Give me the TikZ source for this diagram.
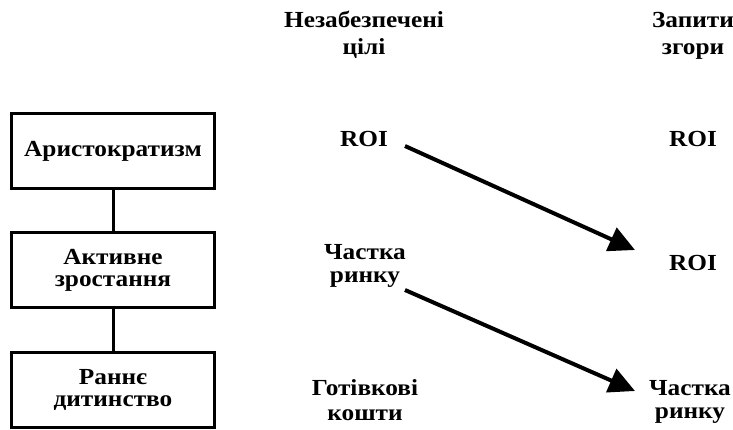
\documentclass[tikz,border=0pt]{standalone}
\usepackage{fontspec}
\setmainfont{Liberation Serif}[FakeStretch=1.1]
\usetikzlibrary{arrows.meta}
\begin{document}
\begin{tikzpicture}[x=1pt,y=-1pt,
  lbl/.style={font=\bfseries\fontsize{23}{#1}\selectfont, align=center, inner sep=0pt, anchor=base},
  lbl/.default=25,
  stage/.style={draw, line width=3pt, minimum width=203pt, minimum height=75pt,
    font=\bfseries\fontsize{23}{22}\selectfont, align=center, inner sep=0pt},
  link/.style={line width=3pt},
  moveto/.style={line width=4pt, -{Triangle[length=26pt,width=25pt]}}]
  \useasboundingbox (0,0) rectangle (733,430);
  % stages of development
  \node[stage] (s1) at (113,151) {Аристократизм};
  \node[stage] (s2) at (113,270) {Активне\\зростання};
  \node[stage] (s3) at (113,390) {Раннє\\дитинство};
  \draw[link] (s1) -- (s2);
  \draw[link] (s2) -- (s3);
  % column headers (anchored at the baseline of the last line)
  \node[lbl=27] (h1) at (364,55) {Незабезпечені\\цілі};
  \node[lbl=27] (h2) at (693,55) {Запити\\згори};
  % priorities
  \node[lbl] (a1) at (364,147) {ROI};
  \node[lbl=23] (a2) at (365,283) {Частка\\ринку};
  \node[lbl] (a3) at (365,420) {Готівкові\\кошти};
  \node[lbl] (b1) at (693,147) {ROI};
  \node[lbl] (b2) at (693,270) {ROI};
  \node[lbl=23] (b3) at (690,418) {Частка\\ринку};
  \coordinate (p1) at (405,146);
  \coordinate (q1) at (635,250);
  \coordinate (p2) at (405,290);
  \coordinate (q2) at (635,391);
  \draw[moveto] (p1) -- (q1);
  \draw[moveto] (p2) -- (q2);
\end{tikzpicture}
\end{document}
